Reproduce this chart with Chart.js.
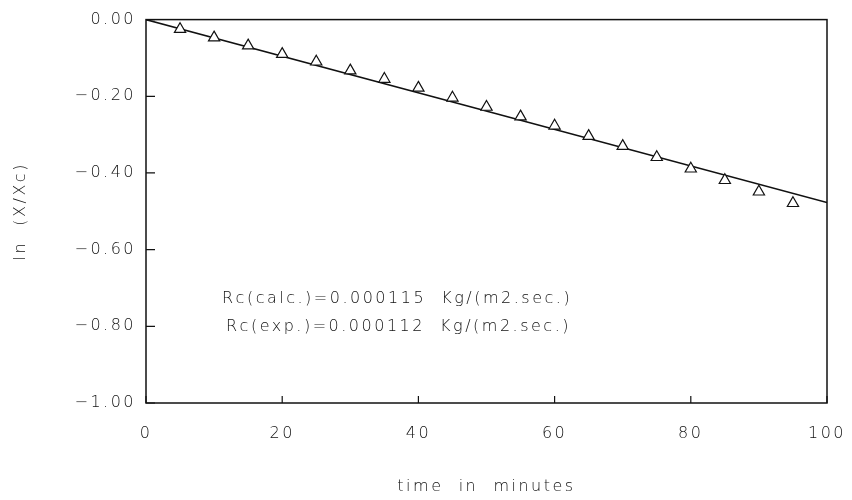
<!DOCTYPE html>
<html>
<head>
<meta charset="utf-8">
<script src="https://cdn.jsdelivr.net/npm/chart.js@4/dist/chart.umd.min.js"></script>
<style>
  html, body { margin: 0; padding: 0; background: #fff; }
  #wrap { width: 852px; height: 500px; }
</style>
</head>
<body>
<div id="wrap"><canvas id="chart"></canvas></div>
<script>
/* ---------- DATA ---------- */
const timeMin = [5, 10, 15, 20, 25, 30, 35, 40, 45, 50, 55, 60, 65, 70, 75, 80, 85, 90, 95];
const lnRatio = [-0.025, -0.047, -0.068, -0.090, -0.110, -0.133, -0.155, -0.178, -0.204, -0.228,
                 -0.253, -0.277, -0.304, -0.330, -0.359, -0.389, -0.419, -0.449, -0.479];
const fitX = [0, 100];
const fitY = [0, -0.477];
const xTicks = [0, 20, 40, 60, 80, 100];
const yTicks = [0, -0.2, -0.4, -0.6, -0.8, -1.0];
const notes = ['Rc(calc.)=0.000115  Kg/(m2.sec.)', 'Rc(exp.)=0.000112  Kg/(m2.sec.)'];

const ink = '#111';
const font = { family: "'DejaVu Sans', 'Liberation Sans', sans-serif", size: 16, weight: 300 };
const spacing = '2.5px';

// wide plotter-style lettering
const letterSpacingPlugin = {
  id: 'letterSpacing',
  beforeUpdate(chart) { chart.ctx.letterSpacing = spacing; },
  beforeDraw(chart) { chart.ctx.letterSpacing = spacing; }
};

// frame, inward ticks and the two notes
const framePlugin = {
  id: 'frame',
  afterDraw(chart) {
    const { ctx, chartArea: a, scales: { x, y } } = chart;
    ctx.save();
    ctx.strokeStyle = ink;
    ctx.lineWidth = 1.5;
    ctx.strokeRect(a.left, a.top, a.right - a.left, a.bottom - a.top);
    ctx.lineWidth = 1.2;
    ctx.beginPath();
    yTicks.forEach(v => {
      const py = y.getPixelForValue(v);
      ctx.moveTo(a.left, py);
      ctx.lineTo(a.left + 9, py);
    });
    xTicks.forEach(v => {
      const px = x.getPixelForValue(v);
      ctx.moveTo(px, a.bottom);
      ctx.lineTo(px, a.bottom - 7);
    });
    ctx.stroke();

    ctx.letterSpacing = spacing;
    ctx.fillStyle = ink;
    ctx.font = `${font.weight} ${font.size}px ${font.family}`;
    ctx.textAlign = 'left';
    ctx.textBaseline = 'middle';
    ctx.fillText(notes[0], 222, 299);
    ctx.fillText(notes[1], 226, 327);
    ctx.restore();
  }
};

const fmt = v => {
  const s = Math.abs(v).toFixed(2);
  return v < -1e-9 ? '\u2212' + s : s;
};

new Chart(document.getElementById('chart'), {
  type: 'scatter',
  data: {
    datasets: [{
      label: 'fit',
      type: 'line',
      data: fitX.map((t, i) => ({ x: t, y: fitY[i] })),
      borderColor: ink,
      borderWidth: 1.5,
      pointRadius: 0,
      fill: false,
      order: 2
    }, {
      label: 'measured',
      data: timeMin.map((t, i) => ({ x: t, y: lnRatio[i] })),
      pointStyle: 'triangle',
      pointRadius: 6.5,
      backgroundColor: '#fff',
      borderColor: ink,
      borderWidth: 1.2,
      order: 1
    }]
  },
  options: {
    responsive: true,
    maintainAspectRatio: false,
    animation: false,
    layout: { padding: { top: 14, right: 25, left: 0, bottom: 0 } },
    plugins: { legend: { display: false }, tooltip: { enabled: false } },
    scales: {
      x: {
        type: 'linear',
        min: 0, max: 100,
        afterBuildTicks: s => { s.ticks = xTicks.map(v => ({ value: v })); },
        afterFit: s => { s.height = 97; s.paddingLeft = 0; s.paddingRight = 0; },
        grid: { display: false, drawTicks: false },
        border: { display: false },
        ticks: { color: ink, font, padding: 21, maxRotation: 0 },
        title: { display: true, text: 'time  in  minutes', color: ink, font, padding: { top: 0, bottom: 4 } }
      },
      y: {
        min: -1, max: 0,
        afterBuildTicks: s => { s.ticks = yTicks.map(v => ({ value: v })); },
        afterFit: s => { s.width = 146; },
        grid: { display: false, drawTicks: false },
        border: { display: false },
        ticks: { color: ink, font, padding: 10, callback: v => fmt(v) },
        title: { display: true, text: 'ln  (X/Xc)', color: ink, font, padding: { top: 11, bottom: 0 } }
      }
    }
  },
  plugins: [letterSpacingPlugin, framePlugin]
});
</script>
</body>
</html>
